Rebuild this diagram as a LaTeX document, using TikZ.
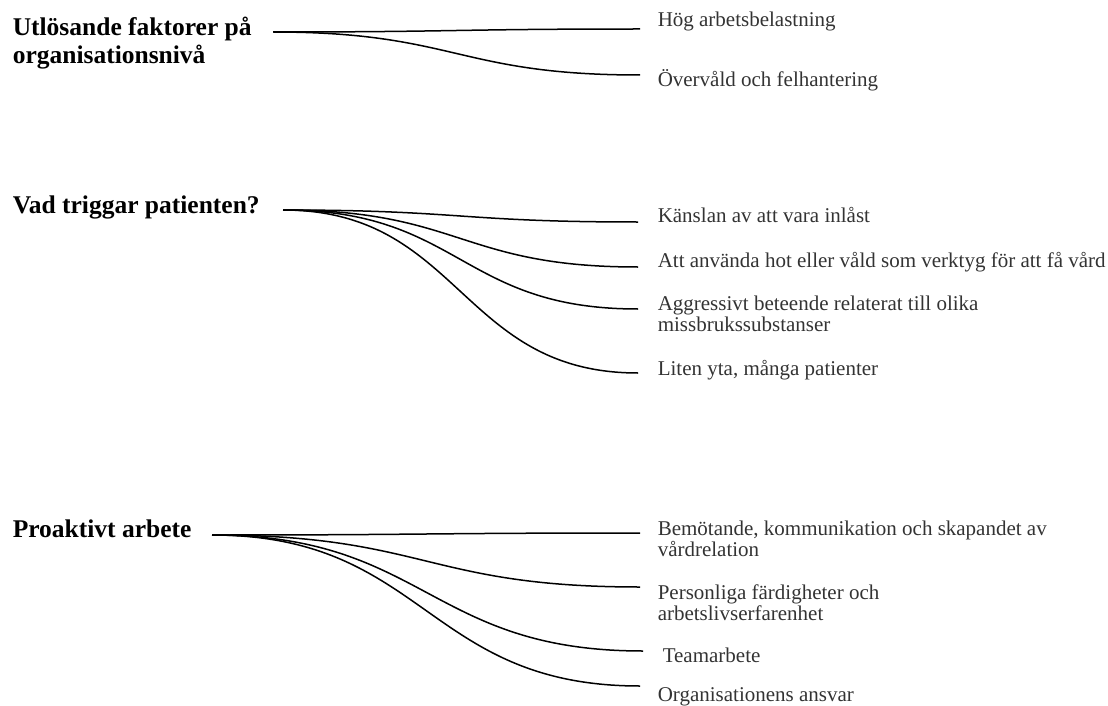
\documentclass[tikz,border=0pt]{standalone}
\usepackage{fontspec}
\setmainfont{Liberation Serif}
\usepackage{tikz}

\newcommand{\twolines}[2]{\vtop{\hbox{#1}\hbox{#2}}}

\begin{document}
\begin{tikzpicture}[x = 1pt, y = -1pt, line width = 1.5pt,
        heading/.style = {anchor = base west, inner sep = 0pt,
            font = \fontsize{25.5}{27.5}\selectfont\bfseries},
        factor/.style = {anchor = base west, inner sep = 0pt,
            text = black!80, font = \fontsize{21}{21.5}\selectfont}]
            \useasboundingbox (0, 0) rectangle (1108, 706);

            \node [heading] (org) at (12, 36) {\twolines{Utlösande faktorer på}{organisationsnivå}};
            \node [heading] (pat) at (12, 213) {Vad triggar patienten?};
            \node [heading] (pro) at (12, 537) {Proaktivt arbete};

            \node [factor] (hog) at (657, 27) {Hög arbetsbelastning};
            \node [factor] (overvald) at (657, 87) {Övervåld och felhantering};

            \node [factor] (kanslan) at (657, 222) {Känslan av att vara inlåst};
            \node [factor] (hot) at (657, 267) {Att använda hot eller våld som verktyg för att få vård};
            \node [factor] (missbruk) at (657, 310) {\twolines{Aggressivt beteende relaterat till olika}{missbrukssubstanser}};
            \node [factor] (yta) at (657, 375) {Liten yta, många patienter};

            \node [factor] (bemotande) at (657, 535) {\twolines{Bemötande, kommunikation och skapandet av}{vårdrelation}};
            \node [factor] (fardigheter) at (657, 599) {\twolines{Personliga färdigheter och}{arbetslivserfarenhet}};
            \node [factor] (team) at (662, 662) {Teamarbete};
            \node [factor] (ansvar) at (657, 701) {Organisationens ansvar};

            \coordinate (org-s) at (273, 32);
            \coordinate (pat-s) at (283, 210);
            \coordinate (pro-s) at (212, 535);

            \coordinate (hog-e) at (640, 29);
            \coordinate (overvald-e) at (640, 75);
            \coordinate (kanslan-e) at (638, 222);
            \coordinate (hot-e) at (638, 267);
            \coordinate (missbruk-e) at (638, 309);
            \coordinate (yta-e) at (638, 373);
            \coordinate (bemotande-e) at (640, 533);
            \coordinate (fardigheter-e) at (640, 587);
            \coordinate (team-e) at (643, 651);
            \coordinate (ansvar-e) at (640, 686);

            \draw (org-s) .. controls +(183, 0) and +(-183, 0) .. (hog-e);
            \draw (org-s) .. controls +(183, 0) and +(-183, 0) .. (overvald-e);

            \draw (pat-s) .. controls +(178, 0) and +(-178, 0) .. (kanslan-e);
            \draw (pat-s) .. controls +(178, 0) and +(-178, 0) .. (hot-e);
            \draw (pat-s) .. controls +(178, 0) and +(-178, 0) .. (missbruk-e);
            \draw (pat-s) .. controls +(178, 0) and +(-178, 0) .. (yta-e);

            \draw (pro-s) .. controls +(214, 0) and +(-214, 0) .. (bemotande-e);
            \draw (pro-s) .. controls +(214, 0) and +(-214, 0) .. (fardigheter-e);
            \draw (pro-s) .. controls +(214, 0) and +(-214, 0) .. (team-e);
            \draw (pro-s) .. controls +(214, 0) and +(-214, 0) .. (ansvar-e);
        \end{tikzpicture}
\end{document}
